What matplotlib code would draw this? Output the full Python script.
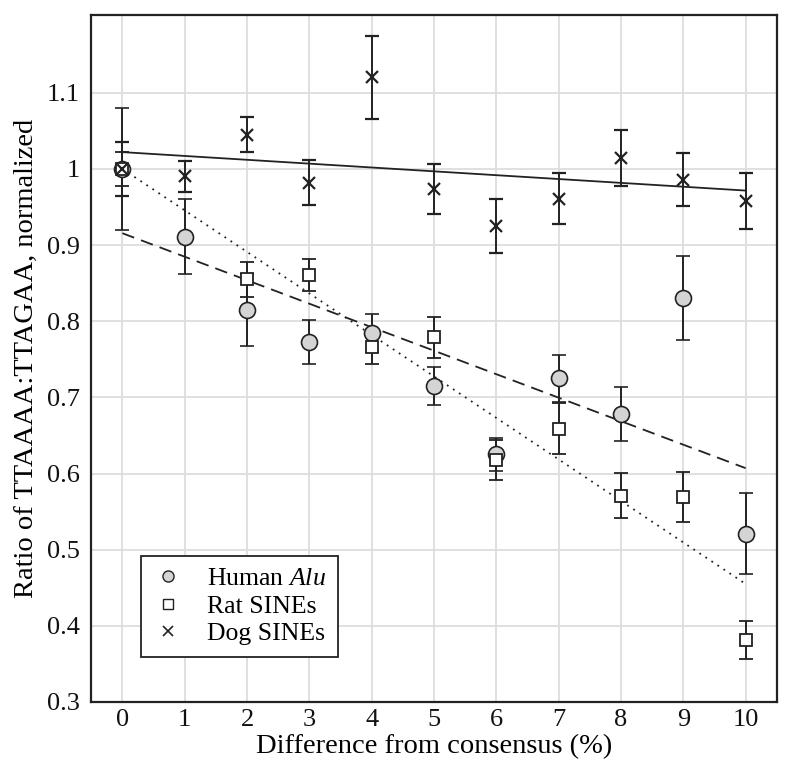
import numpy as np
import matplotlib
matplotlib.use("Agg")
import matplotlib.pyplot as plt
from matplotlib.lines import Line2D

plt.rcParams['font.family'] = ['Liberation Serif', 'DejaVu Serif']
plt.rcParams['mathtext.fontset'] = 'custom'
plt.rcParams['mathtext.rm'] = 'Liberation Serif'
plt.rcParams['mathtext.it'] = 'Liberation Serif:italic'

x = np.arange(0, 11)
xticks = list(range(0, 11))
yticks = [0.3, 0.4, 0.5, 0.6, 0.7, 0.8, 0.9, 1.0, 1.1]
ytick_labels = ['0.3', '0.4', '0.5', '0.6', '0.7', '0.8', '0.9', '1', '1.1']

human = [1.0, 0.911, 0.815, 0.773, 0.785, 0.715, 0.625, 0.725, 0.678, 0.830, 0.521]
human_err = [0.080, 0.049, 0.047, 0.029, 0.025, 0.025, 0.022, 0.031, 0.035, 0.055, 0.053]
rat = [1.0, np.nan, 0.855, 0.860, 0.766, 0.779, 0.618, 0.659, 0.571, 0.569, 0.381]
rat_err = [0.022, np.nan, 0.023, 0.021, 0.022, 0.027, 0.026, 0.034, 0.030, 0.033, 0.025]
dog = [1.0, 0.990, 1.045, 0.982, 1.120, 0.974, 0.925, 0.961, 1.0145, 0.986, 0.958]
dog_err = [0.035, 0.020, 0.023, 0.029, 0.054, 0.033, 0.035, 0.033, 0.037, 0.035, 0.037]

# fitted trend lines: (intercept, slope)
human_fit = (0.9155, -0.03085)
rat_fit = (1.0, -0.0545)
dog_fit = (1.022, -0.00505)

labels = ['Human $\\mathit{Alu}$', 'Rat SINEs', 'Dog SINEs']

dark = '#222222'
fig = plt.figure(figsize=(8, 7.78), dpi=100)
ax = fig.add_axes([0.114, 0.0977, 0.857, 0.883])

ax.set_xlim(-0.5, 10.5)
ax.set_ylim(0.3, 1.202)
ax.set_xticks(xticks)
ax.set_yticks(yticks)
ax.set_yticklabels(ytick_labels)
ax.grid(True, color='#dddddd', linewidth=1.3)
ax.set_axisbelow(True)
ax.tick_params(length=0, labelsize=19, colors='#111111')
ax.tick_params(axis='x', pad=5)
ax.tick_params(axis='y', pad=8)
for s in ax.spines.values():
    s.set_color(dark)
    s.set_linewidth(1.6)

xf = np.array([0, 10])
ax.plot(xf, human_fit[0] + human_fit[1] * xf, color=dark, lw=1.3, ls=(0, (7, 4)), zorder=2)
ax.plot(xf, rat_fit[0] + rat_fit[1] * xf, color=dark, lw=1.3, ls=(0, (1, 3)), zorder=2)
ax.plot(xf, dog_fit[0] + dog_fit[1] * xf, color=dark, lw=1.3, ls='-', zorder=2)

ekw = dict(ecolor=dark, elinewidth=1.4, capsize=4.8, capthick=1.4, ls='none', zorder=3)
ax.errorbar(x, human, yerr=human_err, fmt='o', ms=11.5, mfc='#d4d4d4', mec=dark, mew=1.2, **ekw)
ax.errorbar(x, rat, yerr=rat_err, fmt='s', ms=9, mfc='white', mec=dark, mew=1.3, **ekw)
ax.errorbar(x, dog, yerr=dog_err, fmt='x', ms=9, mec=dark, mew=1.6, **ekw)

handles = [
    Line2D([], [], ls='none', marker='o', ms=8, mfc='#d4d4d4', mec=dark, mew=1.0),
    Line2D([], [], ls='none', marker='s', ms=6.5, mfc='white', mec=dark, mew=1.0),
    Line2D([], [], ls='none', marker='x', ms=6.5, mec=dark, mew=1.2),
]
leg = ax.legend(handles, labels, loc='lower left', bbox_to_anchor=(0.072, 0.0655),
                borderaxespad=0, fontsize=18.5, frameon=True, fancybox=False,
                edgecolor=dark, framealpha=1, labelspacing=0.18, handlelength=1.2,
                handletextpad=0.95, borderpad=0.45)
leg.get_frame().set_linewidth(1.3)

ax.set_xlabel('Difference from consensus (%)', fontsize=20.5, labelpad=2)
ax.set_ylabel('Ratio of TTAAAA:TTAGAA, normalized', fontsize=20.5, labelpad=6)

fig.savefig('out.png', dpi=100)
